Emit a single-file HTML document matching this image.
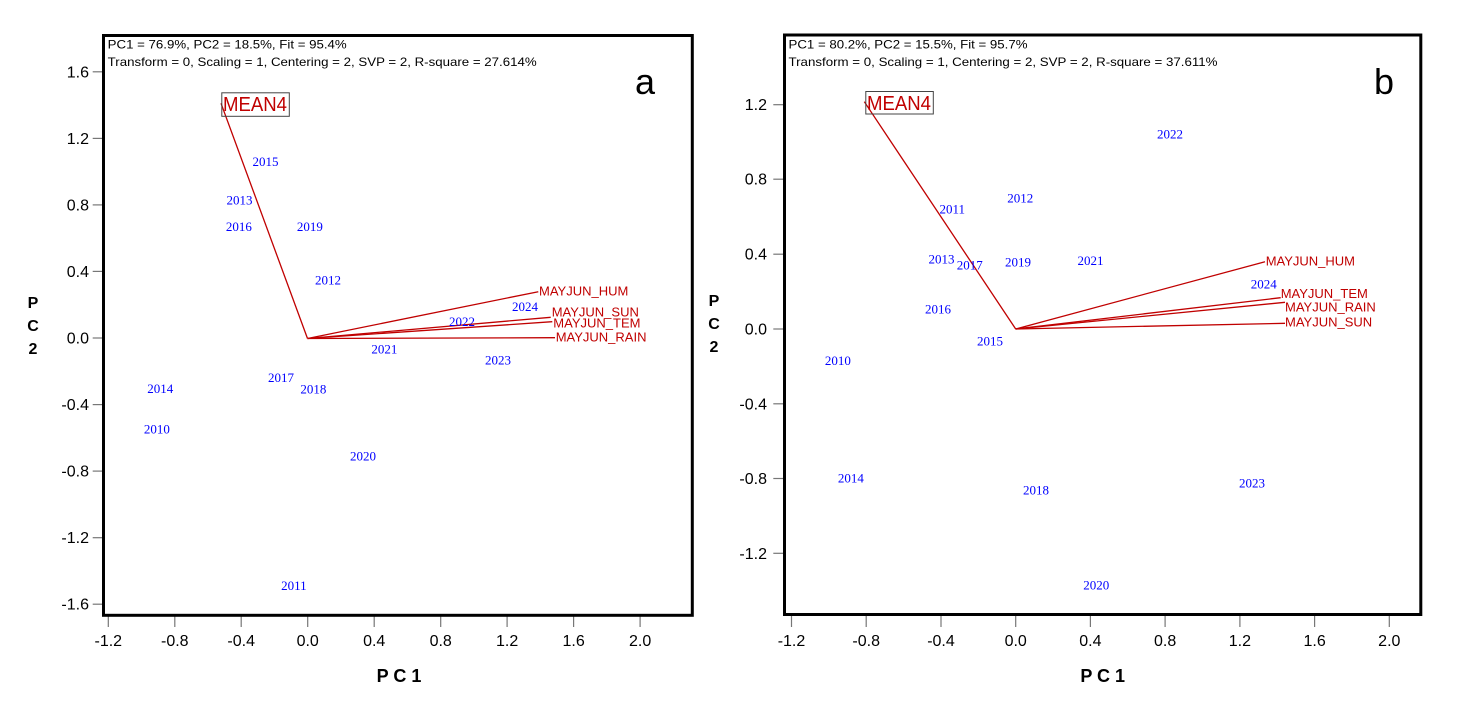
<!DOCTYPE html>
<html>
<head>
<meta charset="utf-8">
<style>
html,body{margin:0;padding:0;background:#fff;}
svg{display:block;}
.tk{font-family:"Liberation Sans",Arial,sans-serif;font-size:16px;fill:#000;}
.hd{font-family:"Liberation Sans",Arial,sans-serif;font-size:12px;fill:#000;}
.yr{font-family:"Liberation Serif","Times New Roman",serif;font-size:13px;fill:#0000ff;text-anchor:middle;}
.vl{font-family:"Liberation Sans",Arial,sans-serif;font-size:13px;fill:#c00000;}
.mn{font-family:"Liberation Sans",Arial,sans-serif;font-size:20px;fill:#c00000;}
.ax{font-family:"Liberation Sans",Arial,sans-serif;font-weight:bold;fill:#000;}
.pl{font-family:"Liberation Sans",Arial,sans-serif;font-size:36px;fill:#000;text-anchor:middle;}
</style>
</head>
<body>
<svg width="1460" height="710" viewBox="0 0 1460 710" xmlns="http://www.w3.org/2000/svg">
<rect x="0" y="0" width="1460" height="710" fill="#fff"/>

<!-- ================= PANEL A ================= -->
<g stroke="#777" stroke-width="1.2">
  <line x1="92.7" y1="71.8" x2="102.7" y2="71.8"/>
  <line x1="92.7" y1="138.4" x2="102.7" y2="138.4"/>
  <line x1="92.7" y1="204.9" x2="102.7" y2="204.9"/>
  <line x1="92.7" y1="271.4" x2="102.7" y2="271.4"/>
  <line x1="92.7" y1="338" x2="102.7" y2="338"/>
  <line x1="92.7" y1="404.6" x2="102.7" y2="404.6"/>
  <line x1="92.7" y1="471.1" x2="102.7" y2="471.1"/>
  <line x1="92.7" y1="537.7" x2="102.7" y2="537.7"/>
  <line x1="92.7" y1="604.2" x2="102.7" y2="604.2"/>
  <line x1="108.3" y1="616" x2="108.3" y2="627"/>
  <line x1="174.8" y1="616" x2="174.8" y2="627"/>
  <line x1="241.2" y1="616" x2="241.2" y2="627"/>
  <line x1="307.7" y1="616" x2="307.7" y2="627"/>
  <line x1="374.2" y1="616" x2="374.2" y2="627"/>
  <line x1="440.7" y1="616" x2="440.7" y2="627"/>
  <line x1="507.1" y1="616" x2="507.1" y2="627"/>
  <line x1="573.6" y1="616" x2="573.6" y2="627"/>
  <line x1="640.1" y1="616" x2="640.1" y2="627"/>
</g>
<g class="tk" text-anchor="end">
  <text x="89" y="77.3">1.6</text>
  <text x="89" y="143.9">1.2</text>
  <text x="89" y="210.4">0.8</text>
  <text x="89" y="276.9">0.4</text>
  <text x="89" y="343.5">0.0</text>
  <text x="89" y="410.1">-0.4</text>
  <text x="89" y="476.6">-0.8</text>
  <text x="89" y="543.2">-1.2</text>
  <text x="89" y="609.7">-1.6</text>
</g>
<g class="tk" text-anchor="middle">
  <text x="108.3" y="646">-1.2</text>
  <text x="174.8" y="646">-0.8</text>
  <text x="241.2" y="646">-0.4</text>
  <text x="307.7" y="646">0.0</text>
  <text x="374.2" y="646">0.4</text>
  <text x="440.7" y="646">0.8</text>
  <text x="507.1" y="646">1.2</text>
  <text x="573.6" y="646">1.6</text>
  <text x="640.1" y="646">2.0</text>
</g>
<text class="ax" x="399" y="682" font-size="18" text-anchor="middle">P C 1</text>
<g class="ax" font-size="16" text-anchor="middle">
  <text x="33" y="308">P</text>
  <text x="33" y="331">C</text>
  <text x="33" y="354">2</text>
</g>

<rect x="103.5" y="35.5" width="588.8" height="579.8" fill="none" stroke="#000" stroke-width="3"/>
<text class="hd" x="107.7" y="48.3" textLength="239" lengthAdjust="spacingAndGlyphs">PC1 = 76.9%, PC2 = 18.5%, Fit = 95.4%</text>
<text class="hd" x="107.7" y="66" textLength="429" lengthAdjust="spacingAndGlyphs">Transform = 0, Scaling = 1, Centering = 2, SVP = 2, R-square = 27.614%</text>
<text class="pl" x="645" y="94">a</text>

<g stroke="#c00000" stroke-width="1.3" fill="none">
  <line x1="307.5" y1="338.5" x2="221" y2="103.3"/>
  <line x1="307.5" y1="338.5" x2="538.3" y2="291.7"/>
  <line x1="307.5" y1="338.5" x2="550.7" y2="317.3"/>
  <line x1="307.5" y1="338.5" x2="552.3" y2="321.7"/>
  <line x1="307.5" y1="338.5" x2="555" y2="337.7"/>
</g>
<rect x="221.8" y="92.8" width="67.5" height="23.5" fill="none" stroke="#444" stroke-width="1"/>
<text class="mn" x="223" y="111" textLength="64" lengthAdjust="spacingAndGlyphs">MEAN4</text>
<text class="vl" x="539" y="295.4">MAYJUN_HUM</text>
<text class="vl" x="551.7" y="316.4">MAYJUN_SUN</text>
<text class="vl" x="553.3" y="327.4">MAYJUN_TEM</text>
<text class="vl" x="555.7" y="341.7">MAYJUN_RAIN</text>

<g class="yr">
  <text x="265.5" y="166">2015</text>
  <text x="239.5" y="204.3">2013</text>
  <text x="238.9" y="231">2016</text>
  <text x="309.9" y="231">2019</text>
  <text x="328" y="284.3">2012</text>
  <text x="525" y="311">2024</text>
  <text x="462" y="326">2022</text>
  <text x="384.4" y="353.3">2021</text>
  <text x="498" y="364.3">2023</text>
  <text x="281" y="382">2017</text>
  <text x="313.4" y="393.6">2018</text>
  <text x="160.2" y="393">2014</text>
  <text x="156.9" y="433.6">2010</text>
  <text x="363" y="460.3">2020</text>
  <text x="293.9" y="590">2011</text>
</g>

<!-- ================= PANEL B ================= -->
<g stroke="#777" stroke-width="1.2">
  <line x1="773.3" y1="104.7" x2="783.3" y2="104.7"/>
  <line x1="773.3" y1="179.2" x2="783.3" y2="179.2"/>
  <line x1="773.3" y1="254.2" x2="783.3" y2="254.2"/>
  <line x1="773.3" y1="329" x2="783.3" y2="329"/>
  <line x1="773.3" y1="403.8" x2="783.3" y2="403.8"/>
  <line x1="773.3" y1="478.5" x2="783.3" y2="478.5"/>
  <line x1="773.3" y1="553.3" x2="783.3" y2="553.3"/>
  <line x1="791.5" y1="616" x2="791.5" y2="627"/>
  <line x1="866.2" y1="616" x2="866.2" y2="627"/>
  <line x1="941" y1="616" x2="941" y2="627"/>
  <line x1="1015.7" y1="616" x2="1015.7" y2="627"/>
  <line x1="1090.4" y1="616" x2="1090.4" y2="627"/>
  <line x1="1165.1" y1="616" x2="1165.1" y2="627"/>
  <line x1="1239.9" y1="616" x2="1239.9" y2="627"/>
  <line x1="1314.6" y1="616" x2="1314.6" y2="627"/>
  <line x1="1389.3" y1="616" x2="1389.3" y2="627"/>
</g>
<g class="tk" text-anchor="end">
  <text x="767" y="110.2">1.2</text>
  <text x="767" y="184.7">0.8</text>
  <text x="767" y="259.7">0.4</text>
  <text x="767" y="334.5">0.0</text>
  <text x="767" y="409.3">-0.4</text>
  <text x="767" y="484">-0.8</text>
  <text x="767" y="558.8">-1.2</text>
</g>
<g class="tk" text-anchor="middle">
  <text x="791.5" y="646">-1.2</text>
  <text x="866.2" y="646">-0.8</text>
  <text x="941" y="646">-0.4</text>
  <text x="1015.7" y="646">0.0</text>
  <text x="1090.4" y="646">0.4</text>
  <text x="1165.1" y="646">0.8</text>
  <text x="1239.9" y="646">1.2</text>
  <text x="1314.6" y="646">1.6</text>
  <text x="1389.3" y="646">2.0</text>
</g>
<text class="ax" x="1102.7" y="682" font-size="18" text-anchor="middle">P C 1</text>
<g class="ax" font-size="16" text-anchor="middle">
  <text x="714" y="306">P</text>
  <text x="714" y="329">C</text>
  <text x="714" y="352">2</text>
</g>

<rect x="784.5" y="35" width="636.3" height="579.5" fill="none" stroke="#000" stroke-width="3"/>
<text class="hd" x="788.5" y="48.3" textLength="239" lengthAdjust="spacingAndGlyphs">PC1 = 80.2%, PC2 = 15.5%, Fit = 95.7%</text>
<text class="hd" x="788.5" y="66" textLength="429" lengthAdjust="spacingAndGlyphs">Transform = 0, Scaling = 1, Centering = 2, SVP = 2, R-square = 37.611%</text>
<text class="pl" x="1384" y="94">b</text>

<g stroke="#c00000" stroke-width="1.3" fill="none">
  <line x1="1015.7" y1="329" x2="864.3" y2="101.7"/>
  <line x1="1015.7" y1="329" x2="1265" y2="261.7"/>
  <line x1="1015.7" y1="329" x2="1280.7" y2="297.7"/>
  <line x1="1015.7" y1="329" x2="1285" y2="302.3"/>
  <line x1="1015.7" y1="329" x2="1285" y2="323.3"/>
</g>
<rect x="865.8" y="91.5" width="67.5" height="22.5" fill="none" stroke="#444" stroke-width="1"/>
<text class="mn" x="867" y="110" textLength="64" lengthAdjust="spacingAndGlyphs">MEAN4</text>
<text class="vl" x="1265.7" y="265.4">MAYJUN_HUM</text>
<text class="vl" x="1280.7" y="298">MAYJUN_TEM</text>
<text class="vl" x="1285" y="311.7">MAYJUN_RAIN</text>
<text class="vl" x="1285" y="326.4">MAYJUN_SUN</text>

<g class="yr">
  <text x="1170" y="138.3">2022</text>
  <text x="952.3" y="213.6">2011</text>
  <text x="1020.2" y="202.6">2012</text>
  <text x="941.5" y="263.6">2013</text>
  <text x="969.7" y="269.3">2017</text>
  <text x="1018" y="266.6">2019</text>
  <text x="1090.5" y="265">2021</text>
  <text x="1263.7" y="288.6">2024</text>
  <text x="938" y="313.3">2016</text>
  <text x="990" y="345.3">2015</text>
  <text x="837.9" y="365">2010</text>
  <text x="850.9" y="482.6">2014</text>
  <text x="1036" y="494.3">2018</text>
  <text x="1252" y="487.3">2023</text>
  <text x="1096.3" y="589.3">2020</text>
</g>
</svg>
</body>
</html>
